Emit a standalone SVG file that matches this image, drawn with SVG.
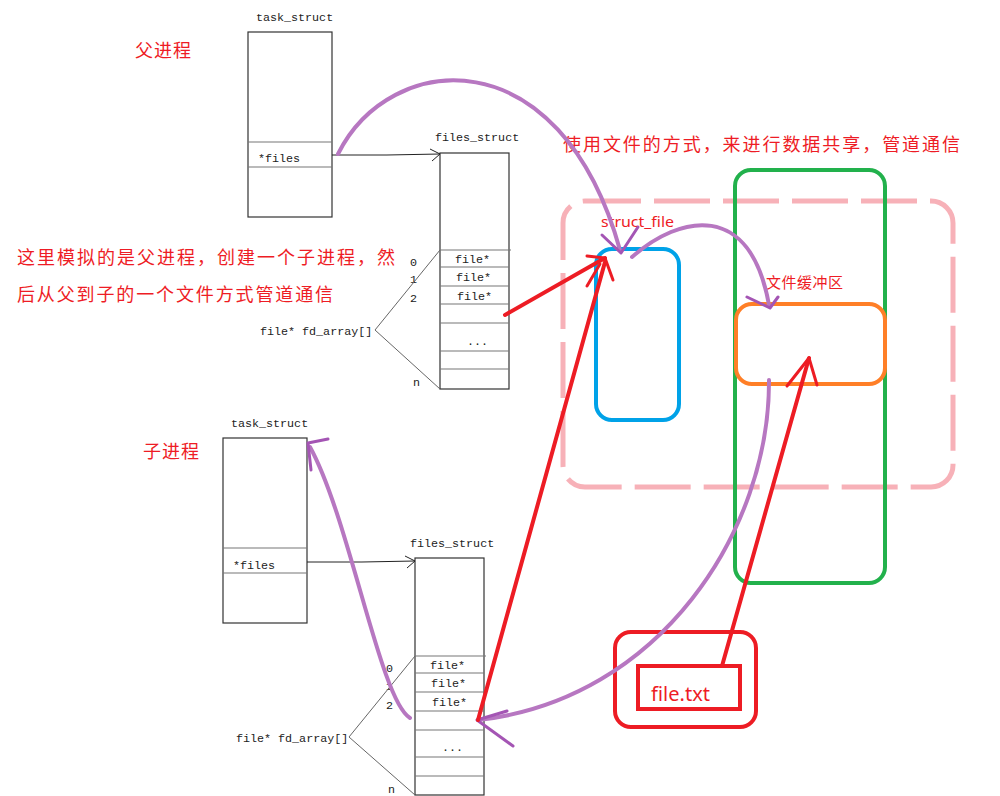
<svg xmlns="http://www.w3.org/2000/svg" width="1000" height="796" viewBox="0 0 1000 796">
<style>
.mono{font-family:"Liberation Mono","DejaVu Sans Mono",monospace;font-size:11.7px;fill:#222}
.box{fill:#fff;stroke:#333;stroke-width:1.2}
.row{stroke:#777;stroke-width:1.2}
.fan{stroke:#666;stroke-width:1;fill:none}
.ptr{stroke:#222;stroke-width:1;fill:none}
.cn{font-family:"Noto Sans CJK SC","Noto Sans",sans-serif;fill:#ee1c25}
.pur{stroke:#b777c1;stroke-width:4;fill:none;stroke-linecap:round}
.purh{stroke:#a455b4;stroke-width:3;fill:none;stroke-linecap:round;stroke-linejoin:round}
.red{stroke:#ed1c24;stroke-width:4;fill:none;stroke-linecap:round;stroke-linejoin:round}
.redh{stroke:#ed1c24;stroke-width:3;fill:none;stroke-linecap:round;stroke-linejoin:round}
</style>
<rect width="1000" height="796" fill="#fff"/>

<!-- labels -->
<g id="labels">
<text class="cn" x="135" y="57" font-size="18" letter-spacing="1">父进程</text>
<text class="cn" x="143" y="458" font-size="18" letter-spacing="1">子进程</text>
<text class="cn" x="563" y="151" font-size="18" textLength="397" lengthAdjust="spacing">使用文件的方式，来进行数据共享，管道通信</text>
<text class="cn" x="17" y="264" font-size="18" textLength="378" lengthAdjust="spacing">这里模拟的是父进程，创建一个子进程，然</text>
<text class="cn" x="17" y="301" font-size="18" textLength="316" lengthAdjust="spacing">后从父到子的一个文件方式管道通信</text>
</g>

<!-- parent task_struct -->
<g id="parent_task">
<text class="mono" x="256" y="21">task_struct</text>
<rect class="box" x="248" y="32" width="84" height="185"/>
<line class="row" x1="248" y1="142" x2="332" y2="142"/>
<line class="row" x1="248" y1="167" x2="332" y2="167"/>
<text class="mono" x="258" y="162">*files</text>
</g>

<!-- parent files_struct -->
<g id="parent_files">
<text class="mono" x="435" y="141">files_struct</text>
<rect class="box" x="440" y="153" width="69" height="236"/>
<line class="row" x1="440" y1="250" x2="511" y2="250"/>
<line class="row" x1="440" y1="267" x2="509" y2="267"/>
<line class="row" x1="440" y1="286" x2="509" y2="286"/>
<line class="row" x1="440" y1="304" x2="509" y2="304"/>
<line class="row" x1="440" y1="323" x2="509" y2="323"/>
<line class="row" x1="440" y1="351" x2="509" y2="351"/>
<line class="row" x1="440" y1="369" x2="509" y2="369"/>
<text class="mono" x="455" y="263">file*</text>
<text class="mono" x="456" y="281">file*</text>
<text class="mono" x="457" y="300">file*</text>
<text class="mono" x="467" y="345">...</text>
<text class="mono" x="410" y="266">0</text>
<text class="mono" x="410" y="283">1</text>
<text class="mono" x="410" y="302">2</text>
<text class="mono" x="413" y="386">n</text>
<text class="mono" x="260" y="335">file* fd_array[]</text>
<polyline class="fan" points="440,250 375,330 440,389"/>
</g>

<!-- child task_struct -->
<g id="child_task">
<text class="mono" x="231" y="427">task_struct</text>
<rect class="box" x="223" y="438" width="84" height="185"/>
<line class="row" x1="223" y1="548" x2="307" y2="548"/>
<line class="row" x1="223" y1="573" x2="307" y2="573"/>
<text class="mono" x="233" y="569">*files</text>
</g>

<!-- child files_struct -->
<g id="child_files">
<text class="mono" x="410" y="547">files_struct</text>
<rect class="box" x="415" y="558" width="69" height="237"/>
<line class="row" x1="415" y1="656" x2="486" y2="656"/>
<line class="row" x1="415" y1="673" x2="484" y2="673"/>
<line class="row" x1="415" y1="692" x2="484" y2="692"/>
<line class="row" x1="415" y1="711" x2="484" y2="711"/>
<line class="row" x1="415" y1="730" x2="484" y2="730"/>
<line class="row" x1="415" y1="757" x2="484" y2="757"/>
<line class="row" x1="415" y1="776" x2="484" y2="776"/>
<text class="mono" x="430" y="669">file*</text>
<text class="mono" x="431" y="687">file*</text>
<text class="mono" x="432" y="706">file*</text>
<text class="mono" x="442" y="751">...</text>
<text class="mono" x="386" y="672">0</text>
<text class="mono" x="386" y="690">1</text>
<text class="mono" x="386" y="709">2</text>
<text class="mono" x="388" y="793">n</text>
<text class="mono" x="236" y="742">file* fd_array[]</text>
<polyline class="fan" points="415,656 349,737 415,795"/>
</g>

<!-- kernel region -->
<g id="shared_region">
<rect x="563" y="201" width="390" height="286" rx="22" fill="none" stroke="#f6a3ab" stroke-width="5" stroke-dasharray="56 13" opacity="0.85"/>
</g>
<g id="buffer_column">
<rect x="735" y="170" width="150" height="413" rx="16" fill="none" stroke="#22b14c" stroke-width="4"/>
</g>
<g id="struct_file">
<rect x="596" y="249" width="83" height="171" rx="16" fill="none" stroke="#00a2e8" stroke-width="4"/>
<text x="601" y="227" font-family="Noto Sans, sans-serif" font-size="15" fill="#ee1c25" textLength="73" lengthAdjust="spacingAndGlyphs">struct_file</text>
</g>
<g id="file_buffer">
<rect x="736" y="304" width="149" height="80" rx="16" fill="none" stroke="#ff7f27" stroke-width="4"/>
<text class="cn" x="766" y="288" font-size="15" textLength="77" lengthAdjust="spacing">文件缓冲区</text>
</g>
<g id="file_txt">
<rect x="615" y="632" width="141" height="95" rx="16" fill="none" stroke="#ed1c24" stroke-width="4"/>
<rect x="638" y="666" width="102" height="43" fill="none" stroke="#ed1c24" stroke-width="4"/>
<text x="651" y="701" font-family="Noto Sans, sans-serif" font-size="20" fill="#ee1c25" textLength="59" lengthAdjust="spacingAndGlyphs">file.txt</text>
</g>

<!-- connectors -->
<g id="connectors">
<polyline class="ptr" points="332,155 387,155 440,154"/>
<polyline class="ptr" points="430,149 440,154 432,161"/>
<polyline class="ptr" points="307,562 362,562 415,561"/>
<polyline class="ptr" points="405,556 415,561 407,568"/>

<path class="pur" d="M338,154 C390,50 560,35 620,250"/>
<polyline class="purh" points="602,235 621,253 638,227"/>
<path class="pur" d="M632,257 C680,215 750,200 769,305"/>
<polyline class="purh" points="747,297 770,308 778,297"/>
<path class="pur" d="M769,380 C770,530 660,700 478,720"/>
<polyline class="purh" points="507,711 477,720 513,746"/>
<path class="pur" d="M410,718 C380,700 350,520 310,447"/>
<polyline class="purh" points="328,439 308,443 311,470"/>

<line class="red" x1="505" y1="315" x2="605" y2="258"/>
<line class="red" x1="478" y1="720" x2="605" y2="262"/>
<polyline class="redh" points="587,256 605,258 613,280"/>
<polyline class="redh" points="587,286 600,264"/>
<line class="red" x1="722" y1="666" x2="809" y2="358"/>
<polyline class="redh" points="787,386 809,358 817,385"/>
</g>
</svg>
